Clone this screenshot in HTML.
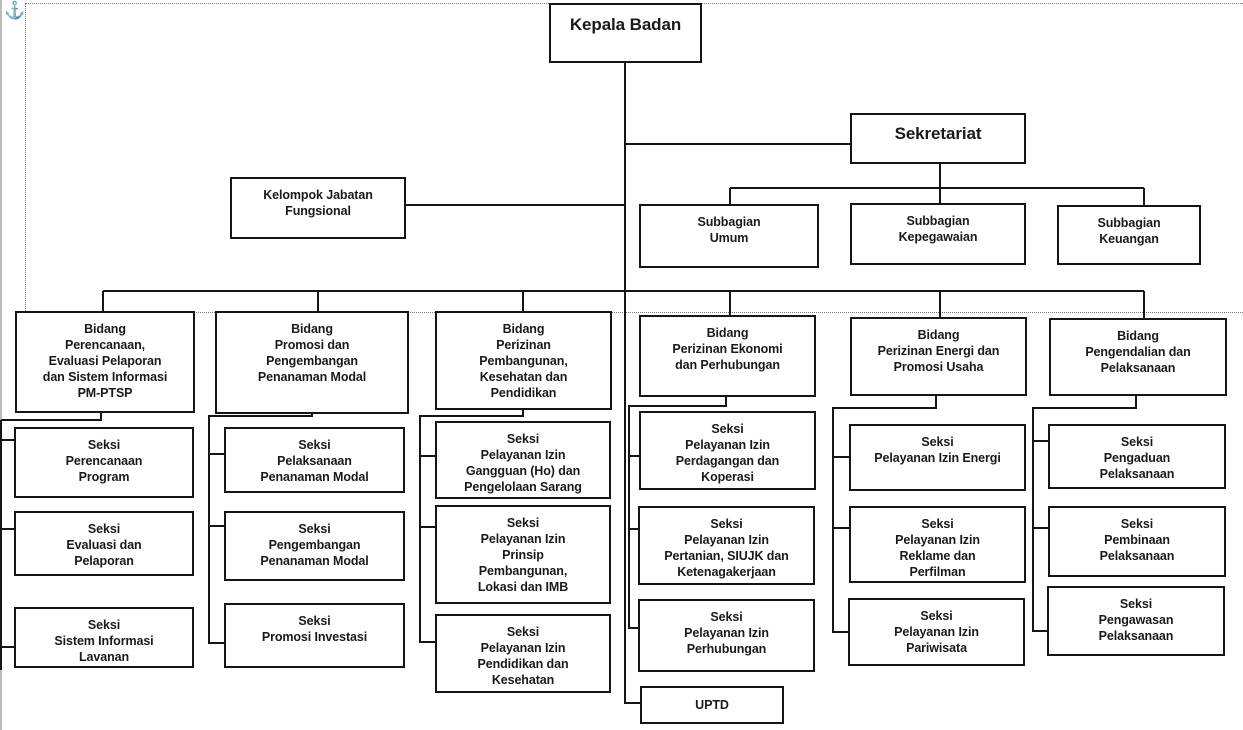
<!DOCTYPE html>
<html><head><meta charset="utf-8">
<style>
html,body{margin:0;padding:0;background:#fff;}
body{width:1243px;height:730px;position:relative;overflow:hidden;font-family:"Liberation Sans",Arial,sans-serif;}
.b{position:absolute;box-sizing:border-box;border:2px solid #151515;background:#fff;text-align:center;font-weight:bold;font-size:12.5px;line-height:16px;padding-top:8px;color:#1a1a1a;letter-spacing:-0.1px;}
svg{position:absolute;left:0;top:0;}
.dot{position:absolute;border:0 dotted #777;}
</style></head><body>
<div style="position:absolute;left:0;top:0;width:2px;height:730px;background:#bbb"></div>
<div class="dot" style="left:25px;top:3px;width:1218px;border-top-width:1px"></div>
<div class="dot" style="left:25px;top:3px;height:308px;border-left-width:1px"></div>
<div class="dot" style="left:25px;top:312px;width:1218px;border-top-width:1px"></div>
<div style="position:absolute;left:4px;top:1px;color:#3a6fb0;font-size:17px;">⚓</div>
<svg width="1243" height="730" stroke="#151515" stroke-width="2" fill="none">
<path d="M625 63V703H647"/>
<path d="M625 144H850"/>
<path d="M406 205H625"/>
<path d="M940 164V188M730 188H1144M730 188V204M940 188V203M1144 188V205"/>
<path d="M103 291H1144M103 291V311M318 291V311M523 291V311M730 291V315M940 291V317M1144 291V318"/>
<path d="M101 413V420H1M1 420V670M1 440H14M1 529H14M1 647H14"/>
<path d="M312 414V416H209V643H224M209 454H224M209 526H224"/>
<path d="M523 410V416H420V642H435M420 456H435M420 527H435"/>
<path d="M726 397V406H629V628H639M629 456H639M629 529H639"/>
<path d="M936 396V408H833V632H850M833 457H850M833 528H850"/>
<path d="M1136 396V408H1033V631H1049M1033 441H1049M1033 528H1049"/>
</svg>

<div class="b" style="left:549px;top:3px;width:153px;height:60px;font-size:17px;padding-top:12px;">Kepala Badan</div>
<div class="b" style="left:850px;top:113px;width:176px;height:51px;font-size:17px;padding-top:11px;">Sekretariat</div>
<div class="b" style="left:230px;top:177px;width:176px;height:62px;">Kelompok Jabatan<br>Fungsional</div>
<div class="b" style="left:639px;top:204px;width:180px;height:64px;">Subbagian<br>Umum</div>
<div class="b" style="left:850px;top:203px;width:176px;height:62px;">Subbagian<br>Kepegawaian</div>
<div class="b" style="left:1057px;top:205px;width:144px;height:60px;">Subbagian<br>Keuangan</div>

<div class="b" style="left:15px;top:311px;width:180px;height:102px;">Bidang<br>Perencanaan,<br>Evaluasi Pelaporan<br>dan Sistem Informasi<br>PM-PTSP</div>
<div class="b" style="left:215px;top:311px;width:194px;height:103px;">Bidang<br>Promosi dan<br>Pengembangan<br>Penanaman Modal</div>
<div class="b" style="left:435px;top:311px;width:177px;height:99px;">Bidang<br>Perizinan<br>Pembangunan,<br>Kesehatan dan<br>Pendidikan</div>
<div class="b" style="left:639px;top:315px;width:177px;height:82px;">Bidang<br>Perizinan Ekonomi<br>dan Perhubungan</div>
<div class="b" style="left:850px;top:317px;width:177px;height:79px;">Bidang<br>Perizinan Energi dan<br>Promosi Usaha</div>
<div class="b" style="left:1049px;top:318px;width:178px;height:78px;">Bidang<br>Pengendalian dan<br>Pelaksanaan</div>

<div class="b" style="left:14px;top:427px;width:180px;height:71px;">Seksi<br>Perencanaan<br>Program</div>
<div class="b" style="left:14px;top:511px;width:180px;height:65px;">Seksi<br>Evaluasi dan<br>Pelaporan</div>
<div class="b" style="left:14px;top:607px;width:180px;height:61px;">Seksi<br>Sistem Informasi<br>Lavanan</div>

<div class="b" style="left:224px;top:427px;width:181px;height:66px;">Seksi<br>Pelaksanaan<br>Penanaman Modal</div>
<div class="b" style="left:224px;top:511px;width:181px;height:70px;">Seksi<br>Pengembangan<br>Penanaman Modal</div>
<div class="b" style="left:224px;top:603px;width:181px;height:65px;">Seksi<br>Promosi Investasi</div>

<div class="b" style="left:435px;top:421px;width:176px;height:78px;">Seksi<br>Pelayanan Izin<br>Gangguan (Ho) dan<br>Pengelolaan Sarang</div>
<div class="b" style="left:435px;top:505px;width:176px;height:99px;">Seksi<br>Pelayanan Izin<br>Prinsip<br>Pembangunan,<br>Lokasi dan IMB</div>
<div class="b" style="left:435px;top:614px;width:176px;height:79px;">Seksi<br>Pelayanan Izin<br>Pendidikan dan<br>Kesehatan</div>

<div class="b" style="left:639px;top:411px;width:177px;height:79px;">Seksi<br>Pelayanan Izin<br>Perdagangan dan<br>Koperasi</div>
<div class="b" style="left:638px;top:506px;width:177px;height:79px;">Seksi<br>Pelayanan Izin<br>Pertanian, SIUJK dan<br>Ketenagakerjaan</div>
<div class="b" style="left:638px;top:599px;width:177px;height:73px;">Seksi<br>Pelayanan Izin<br>Perhubungan</div>
<div class="b" style="left:640px;top:686px;width:144px;height:38px;padding-top:9px;">UPTD</div>

<div class="b" style="left:849px;top:424px;width:177px;height:67px;">Seksi<br>Pelayanan Izin Energi</div>
<div class="b" style="left:849px;top:506px;width:177px;height:77px;">Seksi<br>Pelayanan Izin<br>Reklame dan<br>Perfilman</div>
<div class="b" style="left:848px;top:598px;width:177px;height:68px;">Seksi<br>Pelayanan Izin<br>Pariwisata</div>

<div class="b" style="left:1048px;top:424px;width:178px;height:65px;">Seksi<br>Pengaduan<br>Pelaksanaan</div>
<div class="b" style="left:1048px;top:506px;width:178px;height:71px;">Seksi<br>Pembinaan<br>Pelaksanaan</div>
<div class="b" style="left:1047px;top:586px;width:178px;height:70px;">Seksi<br>Pengawasan<br>Pelaksanaan</div>
</body></html>
